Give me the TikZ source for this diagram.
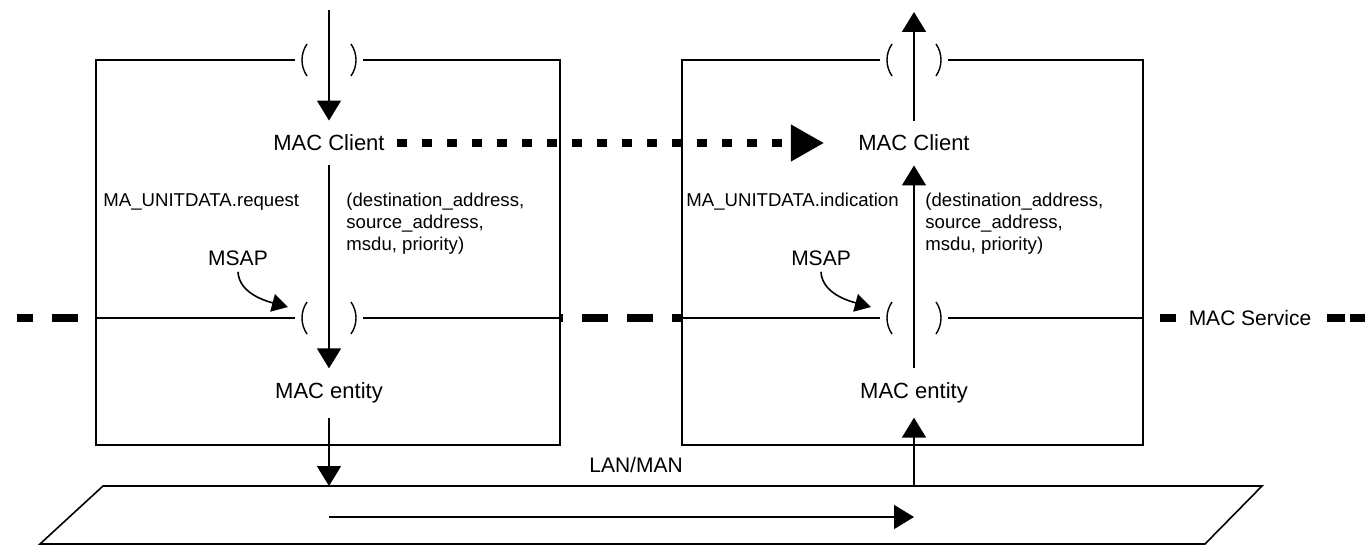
\documentclass[tikz,border=0pt]{standalone}
\usepackage{fontspec}
\setmainfont{Liberation Sans}
\usetikzlibrary{arrows.meta}

\begin{document}
\begin{tikzpicture}[x=0.5pt, y=-0.5pt, >={Triangle[length=10pt,width=12pt]},
	thinl/.style={line width=0.8pt},
	ent/.style={font=\fontsize{11}{13}\selectfont, inner xsep=3pt, inner ysep=7pt},
	lab/.style={font=\fontsize{10.5}{12}\selectfont, inner sep=3pt},
	prim/.style={font=\fontsize{9.3}{11}\selectfont, inner sep=0pt, anchor=west, align=left},
	svc/.style={line width=3.6pt},
	peer/.style={line width=3.6pt, dash pattern=on 5pt off 7.5pt, -{Triangle[length=16.5pt,width=17.5pt]}}]
	\useasboundingbox (0,0) rectangle (1365,545);
	% MAC service boundary
	\draw[svc, dash pattern=on 8pt off 9.5pt on 13pt off 20pt] (17,318) -- (96,318);
	\draw[svc, dash pattern=on 13pt off 9.5pt, dash phase=11.5pt] (560,318) -- (682,318);
	\draw[svc] (1160,318) -- (1176,318);
	\draw[svc, dash pattern=on 9pt off 2.5pt] (1327,318) -- (1365,318);
	% stations
	\fill[white] (96,60) rectangle (560,445);
	\fill[white] (682,60) rectangle (1143,445);
	\draw[thinl] (295,60) -- (96,60) -- (96,445) -- (560,445) -- (560,60) -- (363,60);
	\draw[thinl] (880,60) -- (682,60) -- (682,445) -- (1143,445) -- (1143,60) -- (948,60);
	\draw[thinl] (96,318) -- (295,318) (363,318) -- (560,318);
	\draw[thinl] (682,318) -- (880,318) (948,318) -- (1143,318);
	\foreach \cx/\cy in {329/60, 914/60, 329/318, 914/318} {
		\draw[line width=0.7pt] (\cx-22,\cy+16) arc[start angle=145.2, end angle=214.8, radius=28];
		\draw[line width=0.7pt] (\cx+22,\cy-16) arc[start angle=-34.8, end angle=34.8, radius=28];
	}
	% LAN/MAN medium
	\draw[thinl] (103,486) -- (1262,486) -- (1205,544) -- (40,544) -- cycle;

	\node[ent] (clientL) at (329,143) {MAC Client};
	\node[ent] (clientR) at (914,143) {MAC Client};
	\node[ent] (entL) at (329,393) {MAC entity};
	\node[ent] (entR) at (914,393) {MAC entity};
	\node[prim] (reqL) at (103,202) {MA\_UNITDATA.request};
	\node[prim] (parL) at (346,224) {(destination\_address,\\source\_address,\\msdu, priority)};
	\node[prim] (indR) at (686,202) {MA\_UNITDATA.indication};
	\node[prim] (parR) at (925,224) {(destination\_address,\\source\_address,\\msdu, priority)};
	\node[lab] (msapL) at (238,258) {MSAP};
	\node[lab] (msapR) at (821,258) {MSAP};
	\node[lab] (svcname) at (1250,318) {MAC Service};
	\node[lab] (lan) at (636,465) {LAN/MAN};

	\coordinate (inL) at (329,10);
	\coordinate (outR) at (914,12);
	\coordinate (lanL) at (329,486);
	\coordinate (lanR) at (914,486);
	\coordinate (flowA) at (329,517);
	\coordinate (flowB) at (914,517);
	\coordinate (sapL) at (288,307);
	\coordinate (sapR) at (871,307);

	\draw[thinl, ->] (inL) -- (clientL);
	\draw[thinl, ->] (clientL) -- (entL);
	\draw[thinl, ->] (entL) -- (lanL);
	\draw[thinl, ->] (lanR) -- (entR);
	\draw[thinl, ->] (entR) -- (clientR);
	\draw[thinl, ->] (clientR) -- (outR);
	\draw[thinl, ->] (flowA) -- (flowB);
	\draw[peer, shorten <=3pt, shorten >=14pt] (clientL) -- (clientR);
	\draw[thinl, -{Triangle[length=8pt,width=9pt]}] (msapL.south) .. controls +(1,20) and +(-26,-7) .. (sapL);
	\draw[thinl, -{Triangle[length=8pt,width=9pt]}] (msapR.south) .. controls +(1,20) and +(-26,-7) .. (sapR);
\end{tikzpicture}
\end{document}
